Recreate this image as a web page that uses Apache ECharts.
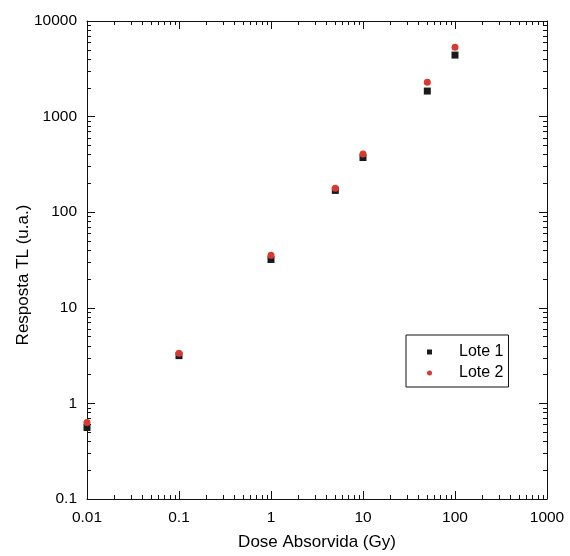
<!DOCTYPE html>
<html>
<head>
<meta charset="utf-8">
<script src="https://cdn.jsdelivr.net/npm/echarts@6/dist/echarts.min.js"></script>
<style>
  html, body { margin: 0; padding: 0; background: #fff; }
  #chart { width: 570px; height: 556px; }
</style>
</head>
<body>
<div id="chart"></div>
<script>
// ---- Data ----
const doses = [0.01, 0.1, 1, 5, 10, 50, 100];               // Dose Absorvida (Gy)
const lote1 = [0.56, 3.16, 32, 169, 373, 1850, 4400];       // Resposta TL, Lote 1
const lote2 = [0.63, 3.34, 35.5, 178, 406, 2290, 5300];     // Resposta TL, Lote 2
const seriesNames = ['Lote 1', 'Lote 2'];
const xTickLabels = ['0.01', '0.1', '1', '10', '100', '1000'];
const yTickLabels = ['0.1', '1', '10', '100', '1000', '10000'];
const xTitle = 'Dose Absorvida (Gy)';
const yTitle = 'Resposta TL (u.a.)';

const xMin = 0.01, xMax = 1000, yMin = 0.1, yMax = 10000;

function labelFor(list, v) {
  for (const s of list) if (Math.abs(parseFloat(s) - v) / v < 1e-6) return s;
  return '';
}
// minor tick positions (log10 space) for the 2..9 subdivisions of every decade
function minorTicks(lo, hi) {
  const out = [];
  for (let d = lo; d < hi; d++) for (let k = 2; k <= 9; k++) out.push(d + Math.log10(k));
  return out;
}

const font = 'Liberation Sans, Arial, sans-serif';
const ink = '#111';

function majorAxis(pos, showLabel, labels, min, max) {
  return {
    type: 'log', logBase: 10, position: pos, min: min, max: max,
    axisLine: { show: true, onZero: false, lineStyle: { color: ink, width: 1 } },
    axisTick: { show: true, inside: true, length: 8, lineStyle: { color: ink, width: 1 } },
    axisLabel: {
      show: showLabel, color: '#000', fontFamily: font, fontSize: 15.5, margin: 10,
      formatter: v => labelFor(labels, v)
    },
    splitLine: { show: false }
  };
}
function minorAxis(pos, lo, hi) {
  return {
    type: 'value', position: pos, min: lo, max: hi,
    axisLine: { show: false, onZero: false },
    axisTick: { show: true, inside: true, length: 4, customValues: minorTicks(lo, hi), lineStyle: { color: ink, width: 1 } },
    axisLabel: { show: false },
    splitLine: { show: false }
  };
}

const xBottom = majorAxis('bottom', true, xTickLabels, xMin, xMax);
Object.assign(xBottom, {
  name: xTitle, nameLocation: 'middle', nameGap: 35, nameMoveOverlap: false,
  nameTextStyle: { color: '#000', fontFamily: font, fontSize: 17 }
});
xBottom.axisLabel.margin = 11;
const yLeft = majorAxis('left', true, yTickLabels, yMin, yMax);
Object.assign(yLeft, {
  name: yTitle, nameLocation: 'middle', nameGap: 55, nameRotate: 90, nameMoveOverlap: false,
  nameTextStyle: { color: '#000', fontFamily: font, fontSize: 17, padding: [0, 30, 0, 0] }
});

const option = {
  backgroundColor: '#fff',
  animation: false,
  grid: { left: 87, right: 23, top: 21, bottom: 57, containLabel: false },
  xAxis: [
    xBottom,
    majorAxis('top', false, xTickLabels, xMin, xMax),
    minorAxis('bottom', Math.log10(xMin), Math.log10(xMax)),
    minorAxis('top', Math.log10(xMin), Math.log10(xMax))
  ],
  yAxis: [
    yLeft,
    majorAxis('right', false, yTickLabels, yMin, yMax),
    minorAxis('left', Math.log10(yMin), Math.log10(yMax)),
    minorAxis('right', Math.log10(yMin), Math.log10(yMax))
  ],
  legend: {
    data: seriesNames,
    orient: 'vertical',
    left: 406, top: 335,
    backgroundColor: '#fff',
    borderColor: ink, borderWidth: 1,
    padding: [8, 5, 5, 21],
    itemWidth: 5, itemHeight: 5, itemGap: 3,
    textStyle: { color: '#000', fontFamily: font, fontSize: 16, lineHeight: 18, padding: [0, 0, 0, 22] }
  },
  series: [
    {
      name: seriesNames[0], type: 'scatter', xAxisIndex: 0, yAxisIndex: 0,
      symbol: 'rect', symbolSize: 7,
      itemStyle: { color: '#1a1a1a', opacity: 1 },
      data: doses.map((d, i) => [d, lote1[i]])
    },
    {
      name: seriesNames[1], type: 'scatter', xAxisIndex: 0, yAxisIndex: 0,
      symbol: 'circle', symbolSize: 7,
      itemStyle: { color: '#d83a32', opacity: 1 },
      data: doses.map((d, i) => [d, lote2[i]])
    }
  ]
};

const chart = echarts.init(document.getElementById('chart'), null, { renderer: 'canvas' });
chart.setOption(option);
</script>
</body>
</html>
